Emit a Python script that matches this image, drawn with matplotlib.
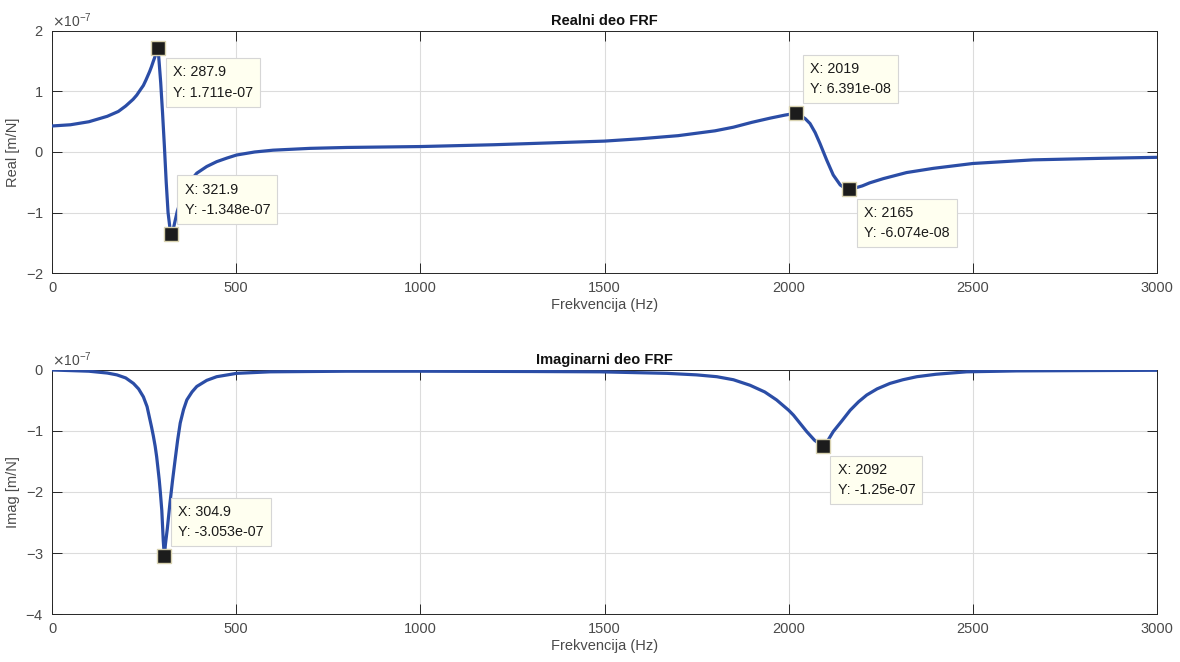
import matplotlib
matplotlib.use("Agg")
import matplotlib.pyplot as plt
from matplotlib.ticker import ScalarFormatter

plt.rcParams["font.family"] = ["Liberation Sans", "DejaVu Sans"]
plt.rcParams["axes.unicode_minus"] = False

SCALE = 1e-7  # values below are given in units of 1e-7 m/N

# Real part of the FRF
freq_re = [0, 50, 100, 150, 180, 200, 220, 230, 240, 248, 255, 260, 265, 270,
           275, 278, 282, 285, 287.9, 295, 300, 305, 310, 315, 321.9, 330, 340,
           355, 370, 393, 420, 447, 475, 501, 550, 600, 700, 800, 1000, 1200,
           1400, 1500, 1600, 1700, 1800, 1850, 1900, 1950, 1990, 2019, 2030,
           2045, 2058, 2072, 2085, 2103, 2121, 2140, 2150, 2165, 2180, 2200,
           2220, 2257, 2320, 2393, 2500, 2664, 2845, 3000]
real_vals = [0.43, 0.45, 0.50, 0.59, 0.67, 0.76, 0.87, 0.94, 1.03, 1.10, 1.19,
             1.26, 1.33, 1.41, 1.50, 1.55, 1.62, 1.67, 1.711, 1.15, 0.65, 0.10,
             -0.50, -1.00, -1.348, -1.25, -0.98, -0.70, -0.52, -0.35, -0.24,
             -0.16, -0.10, -0.05, 0.00, 0.03, 0.06, 0.075, 0.09, 0.12, 0.16,
             0.18, 0.22, 0.27, 0.35, 0.41, 0.49, 0.56, 0.61, 0.6391, 0.61,
             0.55, 0.47, 0.32, 0.14, -0.13, -0.38, -0.545, -0.585, -0.6074,
             -0.595, -0.56, -0.51, -0.44, -0.34, -0.27, -0.19, -0.13, -0.105,
             -0.088]

# Imaginary part of the FRF
freq_im = [0, 100, 150, 176, 200, 221, 235, 248, 258, 266, 270, 275, 280, 284,
           287, 291, 294, 298, 302, 304.9, 308, 313, 320, 327, 334, 341, 348,
           357, 366, 380, 393, 420, 447, 501, 592, 800, 1000, 1300, 1488, 1669,
           1750, 1805, 1850, 1895, 1935, 1967, 2000, 2013, 2049, 2070, 2092,
           2105, 2121, 2145, 2167, 2190, 2212, 2240, 2275, 2310, 2348, 2400,
           2483, 2619, 2800, 3000]
imag_vals = [0.0, -0.02, -0.05, -0.08, -0.13, -0.22, -0.31, -0.44, -0.60, -0.82,
             -0.93, -1.08, -1.25, -1.42, -1.58, -1.80, -2.00, -2.30, -2.80,
             -3.053, -2.85, -2.60, -2.19, -1.82, -1.48, -1.15, -0.87, -0.65,
             -0.49, -0.36, -0.27, -0.17, -0.11, -0.055, -0.03, -0.02, -0.02,
             -0.025, -0.03, -0.055, -0.08, -0.11, -0.16, -0.25, -0.36, -0.49,
             -0.66, -0.74, -1.01, -1.15, -1.25, -1.17, -1.01, -0.83, -0.66,
             -0.52, -0.41, -0.31, -0.22, -0.16, -0.11, -0.07, -0.03, -0.015,
             -0.01, -0.005]

# Data tips: (frequency, value in 1e-7 units, placement)
tips_re = [(287.9, 1.711, "below"), (321.9, -1.348, "above"),
           (2019, 0.6391, "above"), (2165, -0.6074, "below")]
tips_im = [(304.9, -3.053, "above"), (2092, -1.25, "below")]

x_ticks = [0, 500, 1000, 1500, 2000, 2500, 3000]
re_ticks = [-2, -1, 0, 1, 2]
im_ticks = [-4, -3, -2, -1, 0]

LINE_COLOR = "#2b4da6"
AX_COLOR = "#262626"
LABEL_COLOR = "#4a4a4a"


def fmt_num(v):
    return "%.4g" % v


def fmt_val(v):
    s = "%.4g" % v
    if "e" in s:
        m, e = s.split("e")
        return "%se%s%02d" % (m, e[0], abs(int(e)))
    return s


def style_axes(ax, yticks, title, ylabel):
    ax.set_xlim(0, 3000)
    ax.set_ylim(yticks[0] * SCALE, yticks[-1] * SCALE)
    ax.set_xticks(x_ticks)
    ax.set_yticks([t * SCALE for t in yticks])
    fmt = ScalarFormatter(useMathText=True)
    fmt.set_powerlimits((0, 0))
    ax.yaxis.set_major_formatter(fmt)
    ax.yaxis.get_offset_text().set_color(LABEL_COLOR)
    ax.yaxis.get_offset_text().set_fontsize(10)
    ax.grid(True, color="#dcdcdc", linewidth=0.8)
    ax.set_axisbelow(True)
    for sp in ax.spines.values():
        sp.set_color(AX_COLOR)
        sp.set_linewidth(0.7)
    ax.tick_params(direction="in", length=7, width=0.7, top=True, right=True,
                   colors=AX_COLOR, labelcolor=LABEL_COLOR, labelsize=10.5,
                   pad=6)
    ax.set_title(title, fontsize=10.5, fontweight="bold", color="#111111", pad=4)
    ax.set_xlabel("Frekvencija (Hz)", fontsize=10.5, color=LABEL_COLOR, labelpad=2)
    ax.set_ylabel(ylabel, fontsize=10.5, color=LABEL_COLOR, labelpad=4)


def add_tips(ax, tips):
    for f, v, place in tips:
        ax.plot([f], [v * SCALE], marker="s", markersize=9.5,
                markerfacecolor="#1c1c1c", markeredgecolor="#d8d2b0",
                markeredgewidth=1.0, zorder=5)
        txt = "X: %s\nY: %s" % (fmt_num(f), fmt_val(v * SCALE))
        if place == "below":
            off, va = (15, -17), "top"
        else:
            off, va = (14, 17), "bottom"
        ax.annotate(txt, xy=(f, v * SCALE), xytext=off,
                    textcoords="offset pixels", ha="left", va=va,
                    fontsize=10.3, color="#1a1a1a", linespacing=1.55,
                    bbox=dict(boxstyle="square,pad=0.5", fc="#fffff0",
                              ec="#d6d6d6", lw=0.8), zorder=6)


fig = plt.figure(figsize=(11.8, 6.62), dpi=100)
ax1 = fig.add_axes([0.0441, 0.5876, 0.9364, 0.3656])
ax2 = fig.add_axes([0.0441, 0.0725, 0.9364, 0.3686])

ax1.plot(freq_re, [v * SCALE for v in real_vals], color=LINE_COLOR, lw=2.3,
         solid_joinstyle="round", zorder=3)
style_axes(ax1, re_ticks, "Realni deo FRF", "Real [m/N]")
add_tips(ax1, tips_re)

ax2.plot(freq_im, [v * SCALE for v in imag_vals], color=LINE_COLOR, lw=2.3,
         solid_joinstyle="round", zorder=3)
style_axes(ax2, im_ticks, "Imaginarni deo FRF", "Imag [m/N]")
add_tips(ax2, tips_im)

fig.savefig("out.png", dpi=100, facecolor="white")
